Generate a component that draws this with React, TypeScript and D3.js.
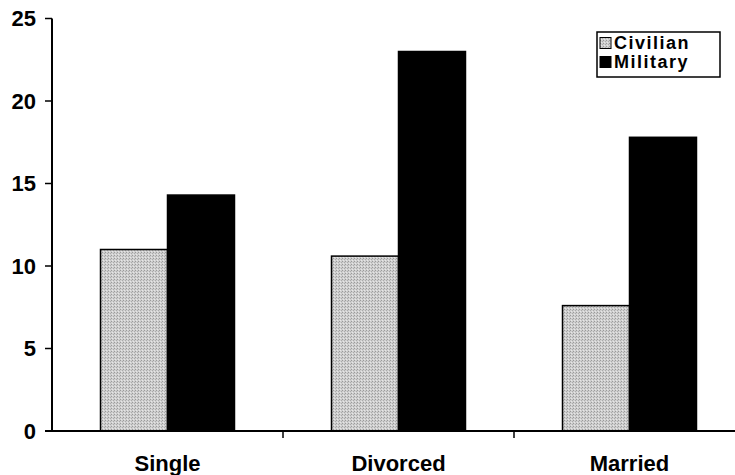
import React from "react";
import * as d3 from "d3";

const categories = ["Single", "Divorced", "Married"];
const series = ["Civilian", "Military"];
const civilianValues = [11.0, 10.6, 7.6];
const militaryValues = [14.3, 23.0, 17.8];
const yTicks = [0, 5, 10, 15, 20, 25];

const W = 735;
const H = 475;
const FONT = "'Liberation Sans', Arial, sans-serif";

export default function App() {
  const x = d3.scaleBand<string>().domain(categories).range([52, 745]).padding(0);
  const groupW = x.bandwidth() * 0.58;
  const xSub = d3.scaleBand<string>().domain(series).range([0, groupW]).padding(0);
  const y = d3.scaleLinear().domain([0, 25]).range([431, 18.5]);
  const colors: Record<string, string> = { Civilian: "url(#civPat)", Military: "#000" };
  const valuesBySeries: Record<string, number[]> = { Civilian: civilianValues, Military: militaryValues };
  const boundaries = categories.slice(1).map((c) => x(c)!);

  return (
    <svg width={W} height={H} style={{ position: "absolute", left: 0, top: 0, background: "#fff" }}>
      <defs>
        <pattern id="civPat" width="3" height="3" patternUnits="userSpaceOnUse">
          <rect width="3" height="3" fill="#cfcfcf" />
          <rect x="0" y="0" width="1" height="1" fill="#9a9a9a" />
          <rect x="2" y="1" width="1" height="1" fill="#ababab" />
          <rect x="1" y="2" width="1" height="1" fill="#e6e6e6" />
        </pattern>
      </defs>
      {categories.map((c, i) => {
        const gx = x(c)! + (x.bandwidth() - groupW) / 2;
        return series.map((s) => {
          const v = valuesBySeries[s][i];
          return (
            <rect
              key={c + s}
              x={gx + xSub(s)!}
              y={y(v)}
              width={xSub.bandwidth()}
              height={y(0) - y(v)}
              fill={colors[s]}
              stroke="#000"
              strokeWidth={1.5}
            />
          );
        });
      })}
      {/* y axis */}
      <line x1={52} x2={52} y1={y(25)} y2={y(0)} stroke="#000" strokeWidth={2} />
      {yTicks.map((t) => (
        <g key={t}>
          <line x1={45} x2={52} y1={y(t)} y2={y(t)} stroke="#000" strokeWidth={1.5} />
          <text x={36} y={y(t)} dy="0.36em" textAnchor="end" fontFamily={FONT} fontWeight="bold" fontSize={22}>
            {t}
          </text>
        </g>
      ))}
      {/* x axis */}
      <line x1={45} x2={735} y1={y(0)} y2={y(0)} stroke="#000" strokeWidth={2} />
      {boundaries.map((b, i) => (
        <line key={i} x1={b} x2={b} y1={y(0)} y2={y(0) + 7} stroke="#000" strokeWidth={1.5} />
      ))}
      {categories.map((c) => (
        <text
          key={c}
          x={x(c)! + x.bandwidth() / 2}
          y={471}
          textAnchor="middle"
          fontFamily={FONT}
          fontWeight="bold"
          fontSize={22}
        >
          {c}
        </text>
      ))}
      {/* legend */}
      <rect x={597} y={32} width={123} height={45} fill="#fff" stroke="#000" strokeWidth={1.5} />
      {series.map((s, i) => (
        <g key={s} transform={`translate(600, ${43 + i * 19})`}>
          <rect x={0} y={-5.5} width={11} height={11} fill={colors[s]} stroke="#000" strokeWidth={1} />
          <text x={14} y={0} dy="0.36em" fontFamily={FONT} fontWeight="bold" fontSize={18} letterSpacing={1.5}>
            {s}
          </text>
        </g>
      ))}
    </svg>
  );
}
